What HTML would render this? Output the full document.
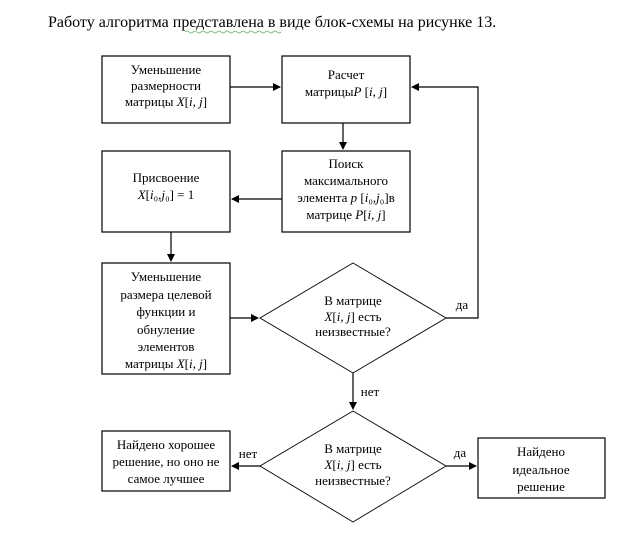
<!DOCTYPE html>
<html><head><meta charset="utf-8"><style>
body{margin:0;background:#fff;}
svg{display:block;}
text{font-family:"Liberation Serif","DejaVu Serif",serif;font-size:13px;fill:#000;text-anchor:middle;}
</style></head><body>
<svg width="618" height="538" viewBox="0 0 618 538" font-family="Liberation Serif, serif">
<defs><marker id="a" markerWidth="8" markerHeight="8" refX="7" refY="4" orient="auto" markerUnits="userSpaceOnUse"><path d="M0,0 L8,4 L0,8 z" fill="#000"/></marker></defs>
<text x="48" y="27" style="font-size:16px;text-anchor:start">Работу алгоритма представлена в виде блок-схемы на рисунке 13.</text>
<path d="M185,32 q2,-2 4,0 t4,0 t4,0 t4,0 t4,0 t4,0 t4,0 t4,0 t4,0 t4,0 t4,0 t4,0 t4,0 t4,0 t4,0 t4,0 t4,0 t4,0 t4,0 t4,0 t4,0 t4,0 t4,0 t4,0" fill="none" stroke="#6a6" stroke-width="0.8"/>
<g fill="none" stroke="#000" stroke-width="1.2">
<rect x="102" y="56" width="128" height="67"/>
<rect x="282" y="56" width="128" height="67"/>
<rect x="102" y="151" width="128" height="81"/>
<rect x="282" y="151" width="128" height="81"/>
<rect x="102" y="263" width="128" height="111"/>
<rect x="102" y="431" width="128" height="60"/>
<rect x="478" y="438" width="127" height="60"/>
<polygon points="353,263 446,318 353,373 260,318" stroke-width="0.9"/>
<polygon points="353,411 446,466 353,522 260,466" stroke-width="0.9"/>
<line x1="230" y1="87" x2="280" y2="87" marker-end="url(#a)"/>
<line x1="343" y1="123" x2="343" y2="149" marker-end="url(#a)"/>
<line x1="282" y1="199" x2="232" y2="199" marker-end="url(#a)"/>
<line x1="171" y1="232" x2="171" y2="261" marker-end="url(#a)"/>
<line x1="230" y1="318" x2="258" y2="318" marker-end="url(#a)"/>
<polyline points="446,318 478,318 478,87 412,87" marker-end="url(#a)"/>
<line x1="353" y1="373" x2="353" y2="409" marker-end="url(#a)"/>
<line x1="260" y1="466" x2="232" y2="466" marker-end="url(#a)"/>
<line x1="446" y1="466" x2="476" y2="466" marker-end="url(#a)"/>
</g>
<text x="166" y="74">Уменьшение</text>
<text x="166" y="90">размерности</text>
<text x="166" y="106">матрицы <tspan font-style="italic">X</tspan>[<tspan font-style="italic">i, j</tspan>]</text>
<text x="346" y="79">Расчет</text>
<text x="346" y="96">матрицы<tspan font-style="italic">P</tspan> [<tspan font-style="italic">i, j</tspan>]</text>
<text x="166" y="182">Присвоение</text>
<text x="166" y="199"><tspan font-style="italic">X</tspan>[<tspan font-style="italic">i</tspan>₀,<tspan font-style="italic">j</tspan>₀] = 1</text>
<text x="346" y="168">Поиск</text>
<text x="346" y="185">максимального</text>
<text x="346" y="202">элемента <tspan font-style="italic">p</tspan> [<tspan font-style="italic">i</tspan>₀,<tspan font-style="italic">j</tspan>₀]в</text>
<text x="346" y="219">матрице <tspan font-style="italic">P</tspan>[<tspan font-style="italic">i, j</tspan>]</text>
<text x="166" y="281">Уменьшение</text>
<text x="166" y="299">размера целевой</text>
<text x="166" y="316">функции и</text>
<text x="166" y="334">обнуление</text>
<text x="166" y="351">элементов</text>
<text x="166" y="368">матрицы <tspan font-style="italic">X</tspan>[<tspan font-style="italic">i, j</tspan>]</text>
<text x="353" y="305">В матрице</text>
<text x="353" y="321"><tspan font-style="italic">X</tspan>[<tspan font-style="italic">i, j</tspan>] есть</text>
<text x="353" y="336">неизвестные?</text>
<text x="353" y="453">В матрице</text>
<text x="353" y="469"><tspan font-style="italic">X</tspan>[<tspan font-style="italic">i, j</tspan>] есть</text>
<text x="353" y="485">неизвестные?</text>
<text x="166" y="449">Найдено хорошее</text>
<text x="166" y="466">решение, но оно не</text>
<text x="166" y="483">самое лучшее</text>
<text x="541" y="456">Найдено</text>
<text x="541" y="474">идеальное</text>
<text x="541" y="491">решение</text>
<text x="462" y="309">да</text>
<text x="370" y="396">нет</text>
<text x="248" y="458">нет</text>
<text x="460" y="457">да</text>
</svg>
</body></html>
